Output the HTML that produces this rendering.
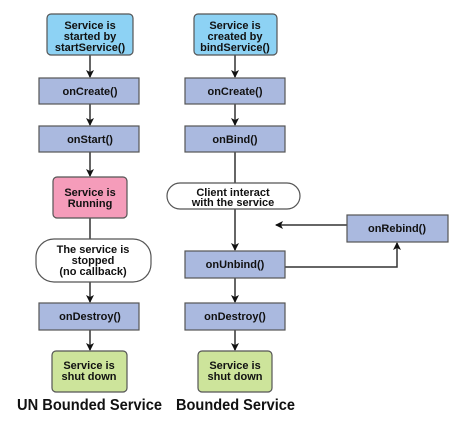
<!DOCTYPE html>
<html><head><meta charset="utf-8"><style>
html,body{margin:0;padding:0;background:#fff;}
svg{display:block;}
text{font-family:"Liberation Sans","DejaVu Sans",sans-serif;font-weight:bold;fill:#111;}
</style></head><body>
<svg width="466" height="423" viewBox="0 0 466 423" xmlns="http://www.w3.org/2000/svg">
<defs>
<marker id="a" markerWidth="8" markerHeight="8" refX="7" refY="4" orient="auto" markerUnits="userSpaceOnUse">
<path d="M0,0 L8,4 L0,8 L2,4 z" fill="#111"/></marker>
</defs>
<g stroke="#333" stroke-width="1.5" fill="none">
<!-- left column lines -->
<line x1="90" y1="55" x2="90" y2="77" marker-end="url(#a)"/>
<line x1="90" y1="104" x2="90" y2="125" marker-end="url(#a)"/>
<line x1="90" y1="152" x2="90" y2="176" marker-end="url(#a)"/>
<line x1="90" y1="218" x2="90" y2="239"/>
<line x1="90" y1="282" x2="90" y2="302" marker-end="url(#a)"/>
<line x1="90" y1="330" x2="90" y2="350" marker-end="url(#a)"/>
<!-- right column -->
<line x1="235" y1="55" x2="235" y2="77" marker-end="url(#a)"/>
<line x1="235" y1="104" x2="235" y2="125" marker-end="url(#a)"/>
<line x1="235" y1="152" x2="235" y2="183"/>
<line x1="235" y1="209" x2="235" y2="250" marker-end="url(#a)"/>
<line x1="235" y1="278" x2="235" y2="302" marker-end="url(#a)"/>
<line x1="235" y1="330" x2="235" y2="350" marker-end="url(#a)"/>
<polyline points="285,267 397,267 397,243" marker-end="url(#a)"/>
<line x1="347" y1="225" x2="276" y2="225" marker-end="url(#a)"/>
</g>
<g stroke="#555" stroke-width="1.2">
<rect x="47" y="14" width="86" height="41" rx="4" fill="#8dd2f4"/>
<rect x="194" y="14" width="83" height="41" rx="4" fill="#8dd2f4"/>
<rect x="39" y="78" width="100" height="26" fill="#aab9df"/>
<rect x="185" y="78" width="100" height="26" fill="#aab9df"/>
<rect x="39" y="126" width="100" height="26" fill="#aab9df"/>
<rect x="185" y="126" width="100" height="26" fill="#aab9df"/>
<rect x="53" y="177" width="74" height="41" rx="4" fill="#f59cba"/>
<rect x="167" y="183" width="133" height="26" rx="13" fill="#fff"/>
<rect x="36" y="239" width="115" height="43" rx="18" fill="#fff"/>
<rect x="347" y="215" width="101" height="27" fill="#aab9df"/>
<rect x="185" y="251" width="100" height="27" fill="#aab9df"/>
<rect x="39" y="303" width="100" height="27" fill="#aab9df"/>
<rect x="185" y="303" width="100" height="27" fill="#aab9df"/>
<rect x="52" y="351" width="75" height="41" rx="4" fill="#cde49b"/>
<rect x="198" y="351" width="74" height="41" rx="4" fill="#cde49b"/>
</g>
<g font-size="11" text-anchor="middle">
<text x="90" y="29">Service is</text>
<text x="90" y="40">started by</text>
<text x="90" y="51">startService()</text>
<text x="235" y="29">Service  is</text>
<text x="235" y="40">created  by</text>
<text x="235" y="51">bindService()</text>
<text x="90" y="95">onCreate()</text>
<text x="235" y="95">onCreate()</text>
<text x="90" y="143">onStart()</text>
<text x="235" y="143">onBind()</text>
<text x="90" y="196">Service is</text>
<text x="90" y="207">Running</text>
<text x="233" y="196">Client interact</text>
<text x="233" y="206">with the service</text>
<text x="93" y="253">The service is</text>
<text x="93" y="264">stopped</text>
<text x="93" y="275">(no callback)</text>
<text x="397" y="232">onRebind()</text>
<text x="235" y="268">onUnbind()</text>
<text x="90" y="320">onDestroy()</text>
<text x="235" y="320">onDestroy()</text>
<text x="89" y="369">Service is</text>
<text x="89" y="380">shut down</text>
<text x="235" y="369">Service is</text>
<text x="235" y="380">shut down</text>
</g>
<text x="17" y="410" font-size="16" textLength="145" lengthAdjust="spacingAndGlyphs">UN Bounded Service</text>
<text x="176" y="410" font-size="16" textLength="119" lengthAdjust="spacingAndGlyphs">Bounded Service</text>
</svg>
</body></html>
